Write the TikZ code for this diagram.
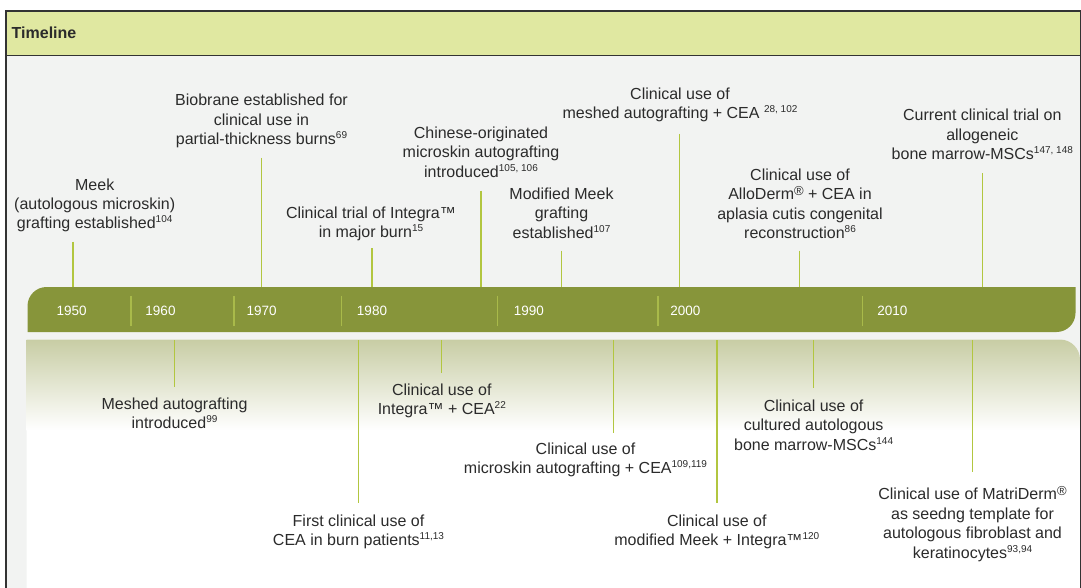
\documentclass[tikz,border=0pt]{standalone}
\usepackage{fontspec}
\setmainfont{Liberation Sans}
\definecolor{hdr}{HTML}{E0E8A1}
\definecolor{bodybg}{HTML}{F2F3F2}
\definecolor{barc}{HTML}{87953A}
\definecolor{tickc}{HTML}{A9BA4A}
\definecolor{connc}{HTML}{B2C640}
\definecolor{gtop}{HTML}{C8CDA4}
\definecolor{txt}{HTML}{2B2B2B}
\definecolor{framec}{HTML}{333333}
\newcommand\rf[1]{\raisebox{6pt}{\fontsize{10}{10}\selectfont #1}}
\newcommand\regm{\raisebox{4.5pt}{\fontsize{13}{13}\selectfont ®}}
\newcommand\labB[1]{\begin{tabular}[b]{@{}c@{}}#1\end{tabular}}
\newcommand\labT[1]{\begin{tabular}[t]{@{}c@{}}#1\end{tabular}}
\tikzset{
  lbl/.style={font=\fontsize{16}{19.5}\selectfont, text=txt, inner sep=0pt, anchor=base},
  year/.style={font=\fontsize{13.5}{16}\selectfont, text=white, inner sep=0pt, anchor=base},
  conn/.style={draw=connc, line width=1.3pt},
  tick/.style={draw=tickc, line width=1.5pt},
}
\begin{document}
\begin{tikzpicture}[x=1pt,y=-1pt]
\useasboundingbox (0,0) rectangle (1081,588);
\fill[white] (0,0) rectangle (1081,588);
% frame
\fill[hdr] (6,11) rectangle (1080.5,55.5);
\fill[bodybg] (6,55.5) rectangle (1080.5,588);
\node[font=\bfseries\fontsize{16}{19}\selectfont, text=txt, inner sep=0pt, anchor=base west] (title) at (11.5,39) {Timeline};
% lower band
\fill[white] (26.5,588) -- (26.5,339.5) -- (1060,339.5) arc[start angle=90,end angle=0,radius=20pt] -- (1080.5,588) -- cycle;
\begin{scope}
\clip (26.5,588) -- (26.5,339.5) -- (1060,339.5) arc[start angle=90,end angle=0,radius=20pt] -- (1080.5,588) -- cycle;
\shade[top color=gtop, bottom color=white] (26.5,339.5) rectangle (1081,430);
\end{scope}
% bar
\fill[barc] (27.5,332) -- (27.5,306) arc[start angle=180,end angle=90,radius=19pt] -- (1075.5,287) -- (1075.5,313) arc[start angle=0,end angle=-90,radius=19pt] -- cycle;
\coordinate (bartop) at (0,287);
\coordinate (bandtop) at (0,340);
\coordinate (tkb) at (0,325.7);
\foreach \x/\n in {130.9/t1,234/t2,341.6/t3,497.6/t4,658/t5,862.6/t6}{
  \coordinate (\n) at (\x,295.7);
  \draw[tick] (\n) -- (\n |- tkb);
}
\node[year] (y1950) at (71.7,315.3) {1950};
\node[year] (y1960) at (160.5,315.3) {1960};
\node[year] (y1970) at (261.7,315.3) {1970};
\node[year] (y1980) at (372,315.3) {1980};
\node[year] (y1990) at (528.8,315.3) {1990};
\node[year] (y2000) at (685.4,315.3) {2000};
\node[year] (y2010) at (892.3,315.3) {2010};
% top labels
\node[lbl] (meek) at (94.7,229) {\labB{Meek\\(autologous microskin)\\grafting established\rf{104}}};
\node[lbl] (bio) at (261.5,145) {\labB{Biobrane established for\\clinical use in\\partial-thickness burns\rf{69}}};
\node[lbl] (itrial) at (371,237.5) {\labB{Clinical trial of Integra™\\in major burn\rf{15}}};
\node[lbl] (chin) at (481,177.5) {\labB{Chinese-originated\\microskin autografting\\introduced\rf{105, 106}}};
\node[lbl] (modm) at (561.5,238) {\labB{Modified Meek\\grafting\\established\rf{107}}};
\node[lbl] (mcea) at (680,119) {\labB{Clinical use of\\meshed autografting + CEA \rf{28, 102}}};
\node[lbl] (allo) at (800,238.5) {\labB{Clinical use of\\AlloDerm\regm{} + CEA in\\aplasia cutis congenital\\reconstruction\rf{86}}};
\node[lbl] (curr) at (982.3,160) {\labB{Current clinical trial on\\allogeneic\\bone marrow-MSCs\rf{147, 148}}};
% top connectors
\foreach \x/\y/\n in {73/241.7/a1,261.7/158/a2,372/248/a3,481/190.7/a4,561.4/250.7/a5,679.8/134/a6,799.8/250.7/a7,982.7/173.3/a8}{
  \coordinate (\n) at (\x,\y);
  \draw[conn] (\n) -- (\n |- bartop);
}
% bottom labels
\node[lbl] (mint) at (174.5,409) {\labT{Meshed autografting\\introduced\rf{99}}};
\node[lbl] (fcea) at (358.5,526) {\labT{First clinical use of\\CEA in burn patients\rf{11,13}}};
\node[lbl] (icea) at (441.8,395) {\labT{Clinical use of\\Integra™ + CEA\rf{22}}};
\node[lbl] (mscea) at (585.5,454) {\labT{Clinical use of\\microskin autografting + CEA\rf{109,119}}};
\node[lbl] (mmi) at (716.8,526) {\labT{Clinical use of\\modified Meek + Integra™\rf{120}}};
\node[lbl] (cult) at (813.6,411) {\labT{Clinical use of\\cultured autologous\\bone marrow-MSCs\rf{144}}};
\node[lbl] (matri) at (972.5,499.5) {\labT{Clinical use of MatriDerm\regm\\as seedng template for\\autologous fibroblast and\\keratinocytes\rf{93,94}}};
% bottom connectors
\foreach \x/\y/\n in {174.6/387.3/b1,358.5/503.3/b2,441.8/373.3/b3,613.5/432.7/b4,717/503.3/b5,813.6/388.3/b6,972.4/472.3/b7}{
  \coordinate (\n) at (\x,\y);
  \draw[conn] (\n |- bandtop) -- (\n);
}
% frame lines
\draw[framec, line width=1.2pt] (6,55.5) -- (1080.5,55.5);
\draw[framec, line width=1.5pt] (6,588) -- (6,11) -- (1080.5,11) -- (1080.5,588);
\end{tikzpicture}
\end{document}
